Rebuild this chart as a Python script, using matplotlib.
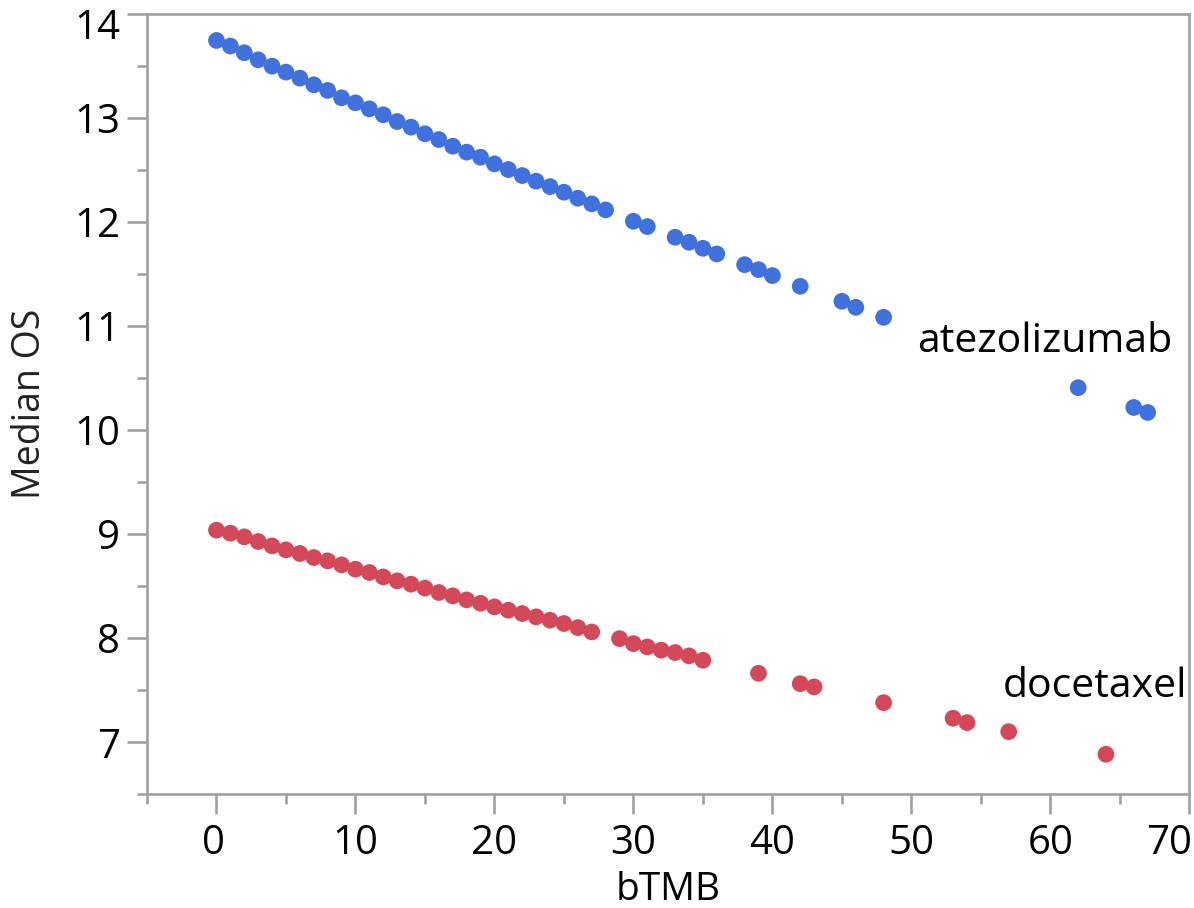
import matplotlib.pyplot as plt
import matplotlib.transforms as mtransforms
from matplotlib.ticker import MultipleLocator

plt.rcParams['font.family'] = ['Open Sans', 'DejaVu Sans']

# atezolizumab: bTMB -> median OS
atezo_x = list(range(0, 29)) + [30, 31, 33, 34, 35, 36, 38, 39, 40, 42, 45, 46, 48, 62, 66, 67]
atezo_y = [13.743, 13.689, 13.625, 13.557, 13.496, 13.439, 13.381, 13.317, 13.263, 13.192,
           13.144, 13.086, 13.029, 12.964, 12.910, 12.846, 12.791, 12.727, 12.670, 12.621,
           12.557, 12.503, 12.445, 12.391, 12.339, 12.285, 12.227, 12.173, 12.115,
           12.006, 11.955, 11.852, 11.804, 11.746, 11.692, 11.589, 11.541, 11.484, 11.381,
           11.237, 11.179, 11.083, 10.407, 10.217, 10.169]

# docetaxel
doce_x = list(range(0, 28)) + [29, 30, 31, 32, 33, 34, 35, 39, 42, 43, 48, 53, 54, 57, 64]
doce_y = [9.038, 9.009, 8.974, 8.929, 8.887, 8.849, 8.814, 8.775, 8.743, 8.705,
          8.663, 8.631, 8.589, 8.551, 8.519, 8.481, 8.439, 8.407, 8.368, 8.336,
          8.301, 8.269, 8.237, 8.205, 8.173, 8.141, 8.102, 8.060,
          7.996, 7.948, 7.916, 7.885, 7.862, 7.830, 7.788, 7.663, 7.563, 7.532,
          7.381, 7.231, 7.189, 7.102, 6.885]

blue = '#4171dc'
red = '#d4495a'
grey = '#a0a0a0'

fig = plt.figure(figsize=(11.94, 9.08), dpi=100)
ax = fig.add_axes([0.1231, 0.1252, 0.8730, 0.8597])

ax.scatter(atezo_x, atezo_y, s=145, c=blue, edgecolors='none', zorder=3)
ax.scatter(doce_x, doce_y, s=145, c=red, edgecolors='none', zorder=3)

ax.text(50.4, 10.753, 'atezolizumab', fontsize=29.5, color='black', ha='left', va='baseline')
ax.text(56.6, 7.438, 'docetaxel', fontsize=29.5, color='black', ha='left', va='baseline')

ax.set_xlim(-5, 70)
ax.set_ylim(6.5, 14)
ax.xaxis.set_major_locator(MultipleLocator(10))
ax.xaxis.set_minor_locator(MultipleLocator(5))
ax.yaxis.set_major_locator(MultipleLocator(1))
ax.yaxis.set_minor_locator(MultipleLocator(0.5))

for sp in ax.spines.values():
    sp.set_color(grey)
    sp.set_linewidth(1.9)

ax.tick_params(which='major', direction='out', length=14.4, width=1.9, color=grey,
               labelsize=29, labelcolor='black')
ax.tick_params(which='minor', direction='out', length=7.2, width=1.9, color=grey)
ax.tick_params(axis='x', which='major', pad=6.5)
ax.tick_params(axis='y', which='major', pad=5)

ax.set_xlabel('bTMB', fontsize=28, color='black', labelpad=5)
ax.set_ylabel('Median OS', fontsize=27, color='#222222', labelpad=18)

fig.canvas.draw()
# edge labels are nudged inward in the original
for t in ax.yaxis.get_major_ticks():
    if abs(t.get_loc() - 14) < 1e-6:
        off = mtransforms.ScaledTranslation(0, -10 / 100, fig.dpi_scale_trans)
        t.label1.set_transform(t.label1.get_transform() + off)
for t in ax.xaxis.get_major_ticks():
    if abs(t.get_loc() - 70) < 1e-6:
        off = mtransforms.ScaledTranslation(-20 / 100, 0, fig.dpi_scale_trans)
        t.label1.set_transform(t.label1.get_transform() + off)
    if abs(t.get_loc()) < 1e-6:
        off = mtransforms.ScaledTranslation(-3 / 100, 0, fig.dpi_scale_trans)
        t.label1.set_transform(t.label1.get_transform() + off)

fig.savefig('out.png', dpi=100)
